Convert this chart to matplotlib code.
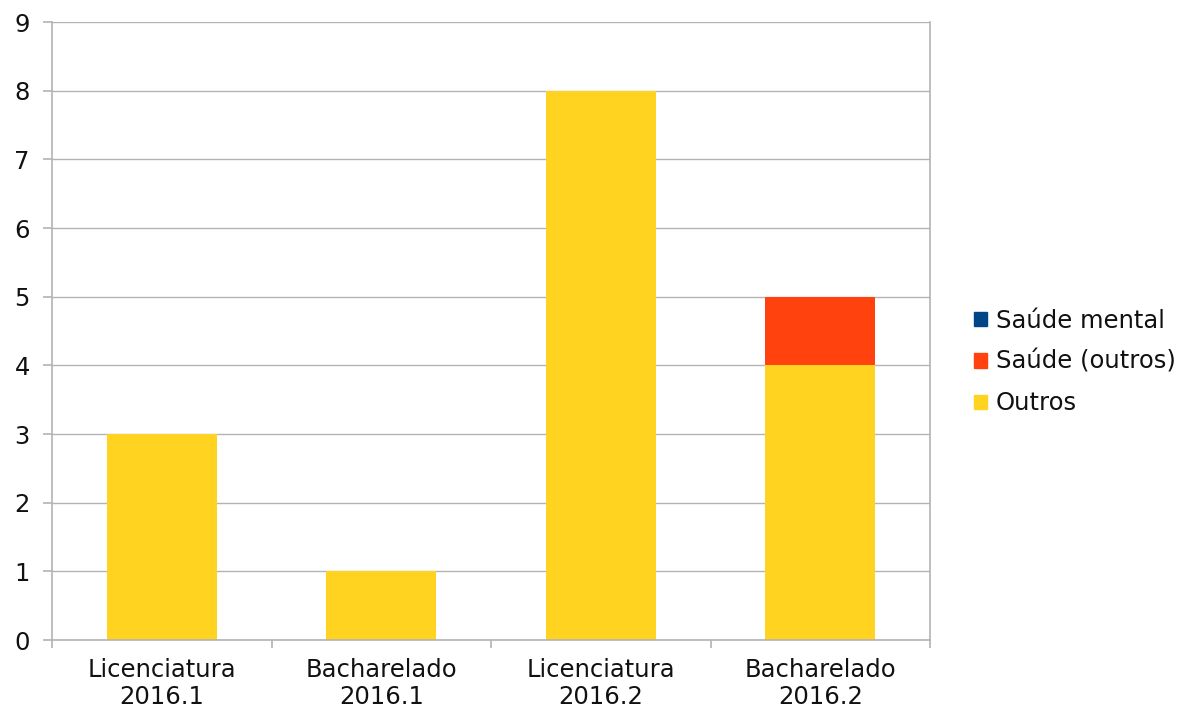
import matplotlib.pyplot as plt
import numpy as np
from matplotlib.patches import Patch

categories = ["Licenciatura\n2016.1", "Bacharelado\n2016.1", "Licenciatura\n2016.2", "Bacharelado\n2016.2"]
outros = [3, 1, 8, 4]
saude_outros = [0, 0, 0, 1]
saude_mental = [0, 0, 0, 0]

c_mental = "#004586"
c_saude = "#ff420e"
c_outros = "#ffd320"
grid_c = "#b3b3b3"

plt.rcParams["font.family"] = ["DejaVu Sans"]

fig = plt.figure(figsize=(11.81, 7.07), dpi=100)
ax = fig.add_axes([52 / 1181, 1 - 640 / 707, (930 - 52) / 1181, (640 - 22) / 707])

x = np.arange(len(categories))
bottom2 = np.array(outros)
bottom3 = bottom2 + np.array(saude_outros)
ax.bar(x, outros, width=0.5, color=c_outros, zorder=2)
ax.bar(x, saude_outros, width=0.5, bottom=bottom2, color=c_saude, zorder=2)
ax.bar(x, saude_mental, width=0.5, bottom=bottom3, color=c_mental, zorder=2)

ax.set_xlim(-0.5, 3.5)
ax.set_ylim(0, 9)
ax.set_yticks(range(10))
ax.yaxis.grid(True, color=grid_c, linewidth=1, zorder=0)

for s in ax.spines.values():
    s.set_color(grid_c)
    s.set_linewidth(1.2)
ax.spines["top"].set_visible(False)

ax.set_xticks(x)
ax.set_xticklabels(categories, linespacing=1.15)
ax.set_xticks(np.arange(-0.5, 4, 1), minor=True)
ax.tick_params(axis="x", which="major", length=0, pad=13, labelsize=17.5, colors="#111111")
ax.tick_params(axis="x", which="minor", length=6, color=grid_c, width=1.2)
ax.tick_params(axis="y", length=6.5, color=grid_c, width=1.2, pad=9.5, labelsize=17.5, labelcolor="#111111")

handles = [Patch(color=c_mental), Patch(color=c_saude), Patch(color=c_outros)]
labels = ["Saúde mental", "Saúde (outros)", "Outros"]
fig.legend(handles, labels, loc="center left", bbox_to_anchor=(957 / 1181, 1 - 362 / 707),
           frameon=False, fontsize=17.5, handlelength=0.55, handleheight=0.55,
           handletextpad=0.35, labelspacing=0.72, borderpad=0.2, labelcolor="#111111")

fig.savefig("out.png", dpi=100)
